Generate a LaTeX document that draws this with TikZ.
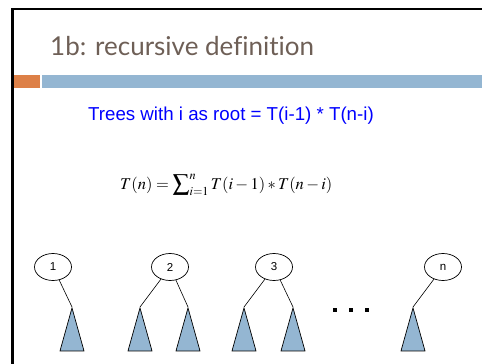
\documentclass[tikz,border=0pt]{standalone}
\usepackage{mathptmx}
\usepackage[no-math]{fontspec}
\setmainfont{Liberation Sans}
\newfontfamily\titlefont[Ligatures=NoCommon]{Lato}
\usetikzlibrary{shapes.geometric,positioning}
\definecolor{slidebrown}{RGB}{110,95,86}
\definecolor{slideorange}{RGB}{221,128,71}
\definecolor{slideblue}{RGB}{148,182,210}

\begin{document}
\begin{tikzpicture}[x=1pt, y=-1pt,
  rt/.style={draw, ellipse, line width=0.7pt, minimum width=37pt, minimum height=27pt,
             inner sep=0pt, font=\fontsize{11.5}{13}\selectfont},
  sub/.style={draw, isosceles triangle, shape border rotate=90, isosceles triangle stretches,
              minimum width=24pt, minimum height=43pt, inner sep=0pt, anchor=apex,
              fill=slideblue, line width=0.7pt},
  ln/.style={line width=0.6pt},
  dot/.style={fill=black, minimum size=4pt, inner sep=0pt}
]
\useasboundingbox (0,0) rectangle (482,364);
% slide frame and bars
\draw[line width=2.2pt] (12.5,364) -- (12.5,9) -- (482,9);
\fill[slideorange] (13.6,75) rectangle (40,88);
\fill[slideblue] (42,75) rectangle (482,88);

\node[anchor=base west, inner sep=0pt, text=slidebrown,
      font=\titlefont\fontsize{26}{30}\selectfont] (title) at (50,55) {1b: recursive definition};
\node[anchor=base west, inner sep=0pt, text=blue,
      font=\fontsize{18.7}{22}\selectfont] (rule) at (88,120) {Trees with i as root = T(i-1) * T(n-i)};
\node[anchor=base west, inner sep=0pt, font=\fontsize{16.5}{20}\selectfont] (sum) at (120,189)
  {$T(n)=\displaystyle\sum\nolimits_{i=1}^{n}T(i-1)*T(n-i)$};

% roots
\node[rt] (r1) at (53,267) {1};
\node[rt] (r2) at (170,267) {2};
\node[rt] (r3) at (274,267) {3};
\node[rt] (rn) at (443,267) {n};

% subtrees
\node[sub] (t1) at (72,307) {};
\node[sub] (t2l) at (140,307) {};
\node[sub] (t2r) at (188,307) {};
\node[sub] (t3l) at (244,307) {};
\node[sub] (t3r) at (293,307) {};
\node[sub] (tn) at (413,307) {};

\draw[ln] (r1) -- (t1.apex);
\draw[ln] (r2) -- (t2l.apex);
\draw[ln] (r2) -- (t2r.apex);
\draw[ln] (r3) -- (t3l.apex);
\draw[ln] (r3) -- (t3r.apex);
\draw[ln] (rn) -- (tn.apex);

\foreach \x/\n in {335/d1, 351/d2, 367/d3}
  \node[dot] (\n) at (\x,310) {};
\end{tikzpicture}
\end{document}
